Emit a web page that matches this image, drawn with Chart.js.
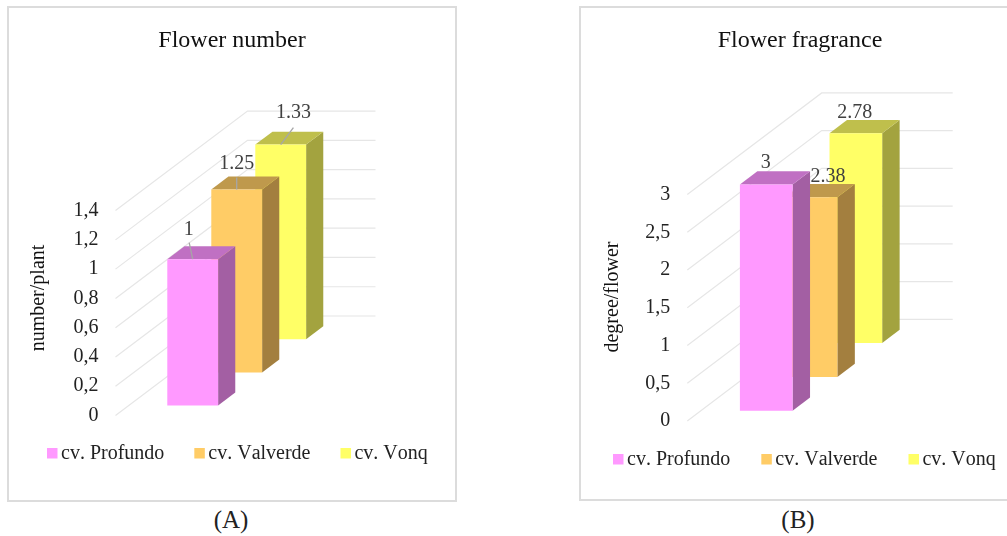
<!DOCTYPE html>
<html>
<head>
<meta charset="utf-8">
<title>Flower number and fragrance</title>
<script src="https://cdn.jsdelivr.net/npm/chart.js@4/dist/chart.umd.min.js"></script>
<style>
    html, body { margin: 0; padding: 0; background: #fff; overflow: hidden; }
    body { width: 1007px; height: 536px; position: relative; font-family: "Liberation Serif", serif; }
    .frame { position: absolute; box-sizing: border-box; border: 2px solid #dcdcdc; background: #fff; }
    .frame canvas { position: absolute; left: 0; top: 0; }
    .caption { position: absolute; top: 503px; font-size: 25px; line-height: 33px; color: #222; text-align: center; width: 60px; }
</style>
</head>
<body>
<div class="frame" style="left:7px;top:6px;width:450px;height:496px"><canvas id="chartA"></canvas></div>
<div class="frame" style="left:579px;top:6px;width:442px;height:495px"><canvas id="chartB"></canvas></div>
<div class="caption" style="left:201px">(A)</div>
<div class="caption" style="left:768px">(B)</div>
<script>
const seriesNames = ['cv. Profundo', 'cv. Valverde', 'cv. Vonq'];
const flowerNumberValues = [1, 1.25, 1.33];
const flowerFragranceValues = [3, 2.38, 2.78];

const frontColors = ['#FF99FF', '#FFCC66', '#FFFF66'];
const sideColors = ['#A35FA3', '#A37F3F', '#A3A33F'];
const topColors = ['#C070C3', '#BF994C', '#BFBF4C'];

const FONT = '"Liberation Serif", serif';

// depth of the fake 3D box, as a fraction of the slanted floor
const DEPTH_START = 0.1;
const DEPTH_STEP = 1 / 3;
const DEPTH_BAR = 0.13;

function bars3d(cfg) {
    const depthOf = i => DEPTH_START + i * DEPTH_STEP;

    return {
        id: 'bars3d',
        // layout padding squeezes the title box too, put it back over the whole canvas
        afterLayout(chart) {
            chart.titleBlock.left = 0;
            chart.titleBlock.right = chart.width;
        },
        // push every bar back along the slant, after the scales placed it
        afterDatasetsUpdate(chart) {
            chart.data.datasets.forEach((ds, i) => {
                const bar = chart.getDatasetMeta(i).data[0];
                const t = depthOf(i);
                bar.x += t * cfg.dx;
                bar.y += t * cfg.dy;
                bar.base += t * cfg.dy;
            });
        },
        beforeDatasetsDraw(chart) {
            const ctx = chart.ctx;
            const area = chart.chartArea;
            ctx.save();
            ctx.strokeStyle = '#e6e6e6';
            ctx.lineWidth = 1.2;
            chart.scales.y.ticks.forEach(tick => {
                const y = chart.scales.y.getPixelForValue(tick.value);
                ctx.beginPath();
                ctx.moveTo(area.left, y);
                ctx.lineTo(area.left + cfg.dx, y + cfg.dy);
                ctx.lineTo(area.right + cfg.dx, y + cfg.dy);
                ctx.stroke();
            });
            ctx.restore();
        },
        beforeDatasetDraw(chart, args) {
            const bar = args.meta.data[0];
            const i = args.index;
            const ctx = chart.ctx;
            const ox = DEPTH_BAR * cfg.dx;
            const oy = DEPTH_BAR * cfg.dy;
            const left = bar.x - bar.width / 2;
            const right = bar.x + bar.width / 2;

            ctx.save();
            ctx.fillStyle = sideColors[i];
            ctx.beginPath();
            ctx.moveTo(right, bar.y);
            ctx.lineTo(right + ox, bar.y + oy);
            ctx.lineTo(right + ox, bar.base + oy);
            ctx.lineTo(right, bar.base);
            ctx.closePath();
            ctx.fill();

            ctx.fillStyle = topColors[i];
            ctx.beginPath();
            ctx.moveTo(left, bar.y);
            ctx.lineTo(left + ox, bar.y + oy);
            ctx.lineTo(right + ox, bar.y + oy);
            ctx.lineTo(right, bar.y);
            ctx.closePath();
            ctx.fill();
            ctx.restore();
        },
        afterDatasetsDraw(chart) {
            const ctx = chart.ctx;
            ctx.save();

            // value labels, some with a leader line down to the bar
            chart.data.datasets.forEach((ds, i) => {
                const bar = chart.getDatasetMeta(i).data[0];
                const off = cfg.labelOffsets[i];
                const lead = cfg.leaders && cfg.leaders[i];
                if (lead) {
                    ctx.strokeStyle = '#a6a6a6';
                    ctx.lineWidth = 1.3;
                    ctx.beginPath();
                    ctx.moveTo(bar.x + lead[0], bar.y + lead[1]);
                    ctx.lineTo(bar.x, bar.y);
                    ctx.stroke();
                }
                ctx.fillStyle = '#404040';
                ctx.font = '20px ' + FONT;
                ctx.textAlign = 'center';
                ctx.textBaseline = 'middle';
                ctx.fillText(String(ds.data[0]), bar.x + off[0], bar.y + off[1]);
            });

            // axis title sits above the middle of the axis
            ctx.save();
            ctx.translate(cfg.axisTitleX, cfg.axisTitleY);
            ctx.rotate(-Math.PI / 2);
            ctx.fillStyle = '#111';
            ctx.font = '20px ' + FONT;
            ctx.textAlign = 'center';
            ctx.textBaseline = 'middle';
            ctx.fillText(cfg.axisTitle, 0, 0);
            ctx.restore();

            // legend, the reference has no kerning on "Va" and "Vo"
            let x = cfg.legendX;
            ctx.font = '20px ' + FONT;
            ctx.fontKerning = 'none';
            ctx.textBaseline = 'middle';
            ctx.textAlign = 'left';
            seriesNames.forEach((name, i) => {
                ctx.fillStyle = frontColors[i];
                ctx.fillRect(x, cfg.legendY - 5, 10.5, 10.5);
                ctx.fillStyle = '#222';
                ctx.fillText(name, x + 14, cfg.legendY + 1);
                x += 14 + ctx.measureText(name).width + cfg.legendGap;
            });
            ctx.restore();
        }
    };
}

function makeChart(id, cfg) {
    const canvas = document.getElementById(id);
    canvas.width = cfg.width;
    canvas.height = cfg.height;
    canvas.style.width = cfg.width + 'px';
    canvas.style.height = cfg.height + 'px';

    return new Chart(canvas, {
        type: 'bar',
        data: {
            labels: [''],
            datasets: seriesNames.map((name, i) => ({
                label: name,
                data: [cfg.values[i]],
                backgroundColor: frontColors[i],
                barPercentage: cfg.barPercentage,
                categoryPercentage: 1,
                clip: false
            }))
        },
        options: {
            responsive: false,
            animation: false,
            events: [],
            layout: { autoPadding: false, padding: cfg.padding },
            plugins: {
                legend: { display: false },
                tooltip: { enabled: false },
                title: {
                    display: true,
                    text: cfg.title,
                    color: '#111',
                    font: { family: FONT, size: 24, weight: 'normal', lineHeight: 1.2 },
                    padding: cfg.titlePadding
                }
            },
            scales: {
                x: { stacked: true, display: false },
                y: {
                    min: 0,
                    max: cfg.max,
                    grid: { display: false },
                    border: { display: false },
                    afterFit(scale) { scale.width = cfg.axisWidth; },
                    ticks: {
                        stepSize: cfg.step,
                        padding: 9,
                        color: '#222',
                        font: { family: FONT, size: 20 },
                        callback: v => String(+v.toFixed(1)).replace('.', ',')
                    }
                }
            }
        },
        plugins: [bars3d(cfg)]
    });
}

// canvas A starts at page (9,8), canvas B at (581,8)
makeChart('chartA', {
    width: 446,
    height: 492,
    values: flowerNumberValues,
    title: 'Flower number',
    axisTitle: 'number/plant',
    max: 1.4,
    step: 0.2,
    dx: 132,
    dy: -99.5,
    barPercentage: 0.397,
    axisWidth: 106.5,
    padding: { left: 0, top: 0, right: 211.5, bottom: 84.5 },
    titlePadding: { top: 18, bottom: 155.8 },
    labelOffsets: [[-4, -29], [0, -26], [12.7, -32]],
    leaders: [[-3.5, -16.5], [0, -12], [12.7, -17]],
    axisTitleX: 30,
    axisTitleY: 290,
    legendX: 38,
    legendY: 445,
    legendGap: 30
});

makeChart('chartB', {
    width: 438,
    height: 491,
    values: flowerFragranceValues,
    title: 'Flower fragrance',
    axisTitle: 'degree/flower',
    max: 3,
    step: 0.5,
    dx: 134.4,
    dy: -101.7,
    barPercentage: 0.402,
    axisWidth: 106.3,
    padding: { left: 0, top: 0, right: 200.7, bottom: 78 },
    titlePadding: { top: 18, bottom: 139.8 },
    labelOffsets: [[-0.5, -22], [17, -20.7], [-1, -20.7]],
    leaders: null,
    axisTitleX: 32,
    axisTitleY: 289,
    legendX: 32,
    legendY: 451,
    legendGap: 31
});
</script>
</body>
</html>
